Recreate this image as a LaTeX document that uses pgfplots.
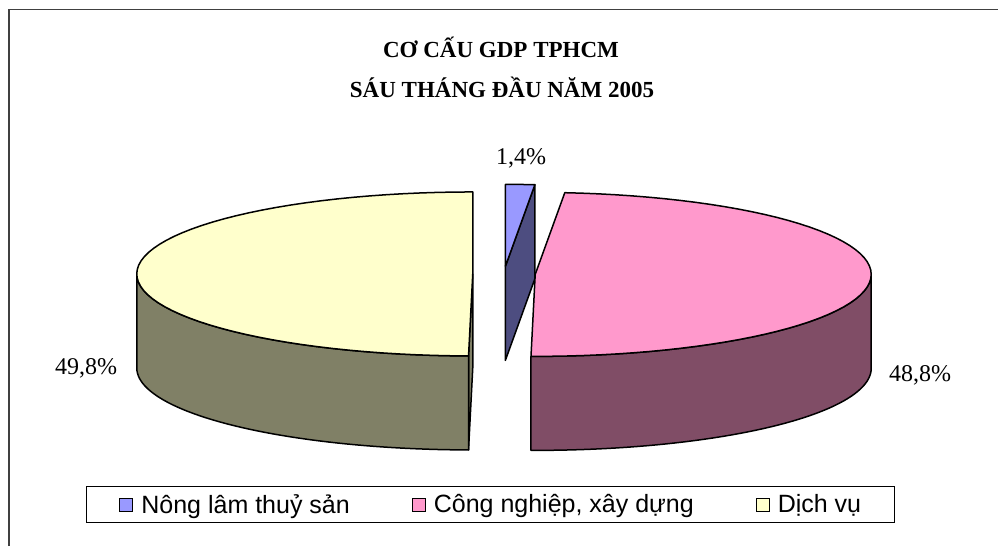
\documentclass[border=0pt]{standalone}
\usepackage{fontspec}
\usepackage{pgfplots}
\usepackage{pgfplotstable}
\pgfplotsset{compat=1.18}
\setmainfont{Liberation Serif}
\newfontfamily\legendfont{Liberation Sans}

\definecolor{bluetop}{HTML}{9999FF}
\definecolor{blueside}{HTML}{4D4D80}
\definecolor{pinktop}{HTML}{FF99CC}
\definecolor{pinkside}{HTML}{804D66}
\definecolor{yellowtop}{HTML}{FFFFCC}
\definecolor{yellowside}{HTML}{808066}
\definecolor{framegray}{HTML}{404040}

% GDP structure, first six months of 2005 (percent)
\pgfplotstableread{
sector value
1 1.4
2 48.8
3 49.8
}\gdpdata

\pgfplotstablegetelem{0}{value}\of\gdpdata \let\vA\pgfplotsretval
\pgfplotstablegetelem{1}{value}\of\gdpdata \let\vB\pgfplotsretval
\pgfplotstablegetelem{2}{value}\of\gdpdata \let\vC\pgfplotsretval

% pie geometry (axis units = px)
\def\rx{336}
\def\ry{82}
\def\dep{94}
\def\ex{0.093}
\pgfmathsetmacro\tot{\vA+\vB+\vC}
\pgfmathsetmacro\dA{360/\tot*\vA}
\pgfmathsetmacro\dB{360/\tot*\vB}
\pgfmathsetmacro\aA{90-\dA}      % blue: \aA .. 90
\pgfmathsetmacro\aB{\aA-\dB}     % pink: \aB .. \aA
\pgfmathsetmacro\aBp{\aB+360}    % yellow: 90 .. \aBp
\pgfmathsetmacro\mA{(90+\aA)/2}
\pgfmathsetmacro\mB{(\aA+\aB)/2}
\pgfmathsetmacro\mC{(90+\aBp)/2}
\pgfmathsetmacro\cxA{504+\ex*\rx*cos(\mA)}
\pgfmathsetmacro\cyA{272+\ex*\ry*sin(\mA)}
\pgfmathsetmacro\cxB{504+\ex*\rx*cos(\mB)}
\pgfmathsetmacro\cyB{272+\ex*\ry*sin(\mB)}
\pgfmathsetmacro\cxC{504+\ex*\rx*cos(\mC)}
\pgfmathsetmacro\cyC{272+\ex*\ry*sin(\mC)}
% cut faces
\pgfmathsetmacro\pAx{\cxA+\rx*cos(\aA)}
\pgfmathsetmacro\pAy{\cyA+\ry*sin(\aA)}
\pgfmathsetmacro\pAyb{\pAy-\dep}
\pgfmathsetmacro\cyAb{\cyA-\dep}
\pgfmathsetmacro\pCx{\cxC+\rx*cos(\aBp)}
\pgfmathsetmacro\pCy{\cyC+\ry*sin(\aBp)}
\pgfmathsetmacro\pCyb{\pCy-\dep}
\pgfmathsetmacro\cyCb{\cyC-\dep}

\tikzset{pieline/.style={draw=black, line width=1.5pt, line join=round}}

% outer wall from angle #3 to #4 (increasing)
\newcommand\wall[5]{%
  \addplot[forget plot, fill=#5, pieline, samples at={0,1,...,102}, variable=\t]
  ({#1+\rx*cos( \t<=50 ? (#3)+((#4)-(#3))*\t/50 : (\t<=101 ? (#3)+((#4)-(#3))*(101-\t)/50 : (#3)) )},
   {#2+\ry*sin( \t<=50 ? (#3)+((#4)-(#3))*\t/50 : (\t<=101 ? (#3)+((#4)-(#3))*(101-\t)/50 : (#3)) ) - ((\t>50 && \t<=101) ? \dep : 0)});
}
% top face: centre, arc #3..#4, centre
\newcommand\topface[5]{%
  \addplot[forget plot, fill=#5, pieline, samples at={0,1,...,62}, variable=\t]
  ({#1+((\t>0 && \t<62) ? \rx*cos((#3)+((#4)-(#3))*(\t-1)/60) : 0)},
   {#2+((\t>0 && \t<62) ? \ry*sin((#3)+((#4)-(#3))*(\t-1)/60) : 0)});
}

\begin{document}
\begin{tikzpicture}
\begin{axis}[
  hide axis, scale only axis,
  width=998pt, height=546pt,
  xmin=0, xmax=998, ymin=0, ymax=546,
  legend image code/.code={\draw[#1] (0pt,-6.5pt) rectangle (13pt,6.5pt);},
  legend style={at={(axis cs:86,41.5)}, anchor=west, legend columns=3,
    draw=black, line width=0.8pt,
    font=\legendfont\fontsize{25}{29}\selectfont,
    inner xsep=33pt, inner ysep=8pt,
    nodes={inner sep=0pt},
    /tikz/every odd column/.append style={column sep=8pt},
    /tikz/every even column/.append style={column sep=62pt}},
]
% full-size invisible frame so the picture keeps the axis' extent
\addplot[forget plot, draw=none] coordinates {(0,0) (998,546)};
% frame
\addplot[forget plot, framegray, line width=1.5pt] coordinates {(9,0) (9,536.5) (998,536.5)};

% Nong lam thuy san (blue)
\addplot[forget plot, fill=blueside, pieline] coordinates {(\cxA,\cyA) (\pAx,\pAy) (\pAx,\pAyb) (\cxA,\cyAb) (\cxA,\cyA)};
\topface{\cxA}{\cyA}{\aA}{90}{bluetop}

% Cong nghiep, xay dung (pink)
\wall{\cxB}{\cyB}{\aB}{0}{pinkside}
\topface{\cxB}{\cyB}{\aB}{\aA}{pinktop}

% Dich vu (yellow)
\addplot[forget plot, fill=yellowside, pieline] coordinates {(\cxC,\cyC) (\pCx,\pCy) (\pCx,\pCyb) (\cxC,\cyCb) (\cxC,\cyC)};
\wall{\cxC}{\cyC}{180}{\aBp}{yellowside}
\topface{\cxC}{\cyC}{90}{\aBp}{yellowtop}

\addlegendimage{fill=bluetop, draw=black, line width=1pt}
\addlegendentry{Nông lâm thuỷ sản}
\addlegendimage{fill=pinktop, draw=black, line width=1pt}
\addlegendentry{Công nghiệp, xây dựng}
\addlegendimage{fill=yellowtop, draw=black, line width=1pt}
\addlegendentry{Dịch vụ}

% title
\node[anchor=base, font=\bfseries\fontsize{23}{27}\selectfont] at (axis cs:501,488) {CƠ CẤU GDP TPHCM};
\node[anchor=base, font=\bfseries\fontsize{23}{27}\selectfont] at (axis cs:502,448) {SÁU THÁNG ĐẦU NĂM 2005};

% data labels
\node[anchor=base, font=\fontsize{24}{28}\selectfont] at (axis cs:521,381) {1,4\%};
\node[anchor=base, font=\fontsize{24}{28}\selectfont] at (axis cs:920,164) {48,8\%};
\node[anchor=base, font=\fontsize{24}{28}\selectfont] at (axis cs:86,171) {49,8\%};
\end{axis}
\end{tikzpicture}
\end{document}
